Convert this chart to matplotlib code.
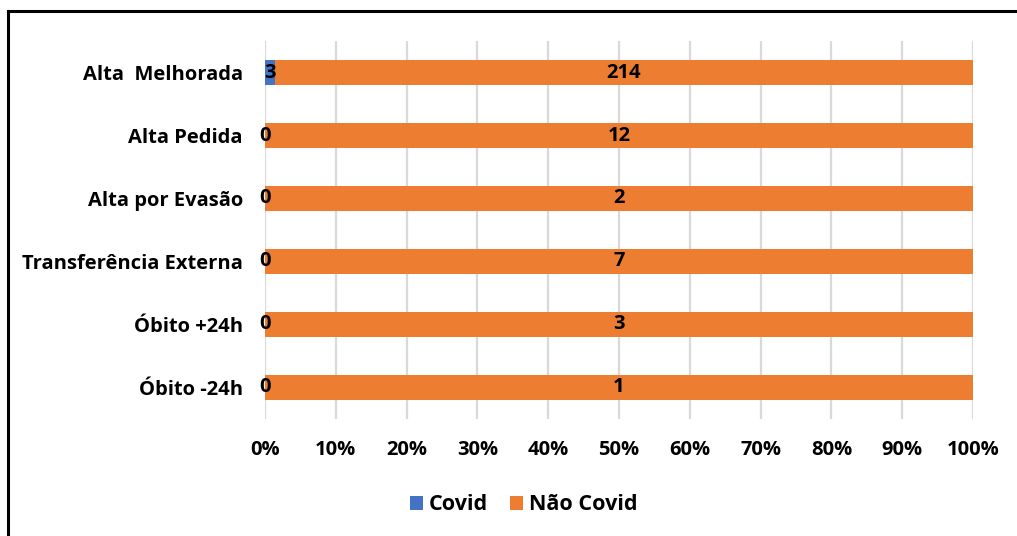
import numpy as np
import matplotlib.pyplot as plt
from matplotlib.lines import Line2D

plt.rcParams['font.family'] = ['Open Sans', 'DejaVu Sans']
plt.rcParams['font.weight'] = 'bold'

categorias = ['Alta  Melhorada', 'Alta Pedida', 'Alta por Evasão',
              'Transferência Externa', 'Óbito +24h', 'Óbito -24h']
covid = np.array([3, 0, 0, 0, 0, 0])
nao_covid = np.array([214, 12, 2, 7, 3, 1])
ticks = np.arange(0, 101, 10)

total = covid + nao_covid
pc_covid = covid / total * 100
pc_nao = nao_covid / total * 100

fs = 14.5

fig = plt.figure(figsize=(10.17, 5.36), dpi=100)
ax = fig.add_axes([0.2606, 0.2183, 0.6962, 0.7052])

y = np.arange(len(categorias))
ax.barh(y, pc_covid, height=0.41, color='#4472C4', label='Covid', zorder=2)
ax.barh(y, pc_nao, left=pc_covid, height=0.41, color='#ED7D31', label='Não Covid', zorder=2)

for i in range(len(categorias)):
    ax.text(pc_covid[i] / 2, y[i], str(covid[i]), ha='center', va='center',
            fontsize=fs, fontweight='bold', color='black', zorder=3)
    ax.text(pc_covid[i] + pc_nao[i] / 2, y[i], str(nao_covid[i]), ha='center', va='center',
            fontsize=fs, fontweight='bold', color='black', zorder=3)

ax.set_xlim(0, 100)
ax.set_ylim(len(categorias) - 0.5, -0.5)
ax.set_yticks(y)
ax.set_yticklabels(categorias, fontsize=fs, fontweight='bold')
ax.set_xticks(ticks)
ax.set_xticklabels([f'{t}%' for t in ticks], fontsize=fs, fontweight='bold')
ax.tick_params(axis='both', length=0)
ax.tick_params(axis='y', pad=16)
ax.tick_params(axis='x', pad=15)
ax.grid(axis='x', color='#D9D9D9', linewidth=1.6, zorder=0)
for s in ax.spines.values():
    s.set_visible(False)

fig.legend(loc='center', bbox_to_anchor=(0.515, 0.058), ncol=2, frameon=False,
           fontsize=15.5, handlelength=0.6, handleheight=0.6, columnspacing=1.0,
           handletextpad=0.3)

# moldura
fig.add_artist(Line2D([8 / 1017, 1.0], [1 - 11 / 536, 1 - 11 / 536], color='black', linewidth=2.2))
fig.add_artist(Line2D([8 / 1017, 8 / 1017], [0, 1 - 11 / 536], color='black', linewidth=2.2))

fig.savefig('out.png', dpi=100)
